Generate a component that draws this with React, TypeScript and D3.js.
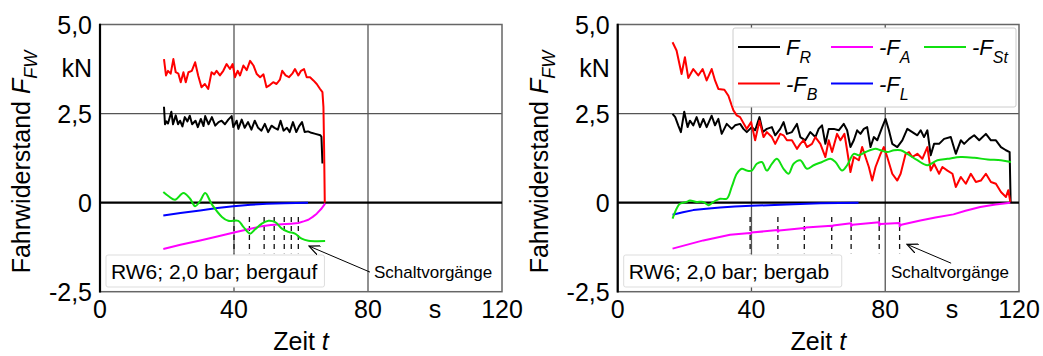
import React, { useEffect, useRef } from 'react'
import * as d3 from 'd3'

type Pt = [number, number]

// bergauf (left panel), t in s, force in kN
const upFR: Pt[] = [[19.1,2.69],[19.4,2.2],[19.8,2.28],[20.3,2.22],[21.3,2.55],[21.8,2.2],[22.6,2.45],[23.3,2.2],[23.9,2.3],[24.6,2.14],[25.3,2.4],[26.1,2.28],[26.8,2.44],[27.5,2.2],[28.5,2.3],[29.2,2.12],[30.1,2.35],[30.9,2.15],[31.4,2.43],[32.4,2.2],[33.4,2.4],[34.4,2.16],[35.4,2.26],[36.3,2.3],[37.3,2.2],[38.3,2.33],[39.3,2.43],[39.8,2.12],[40.8,2.3],[41.3,2.07],[42.3,2.33],[43.2,2.1],[44.2,2.26],[45.2,2.05],[46.2,2.3],[47.2,2.1],[48.2,2.02],[49.2,2.21],[50.2,1.98],[51.2,2.16],[52.1,2.1],[53.1,2.05],[53.9,2.3],[54.8,2.02],[55.8,2.1],[56.6,1.98],[57.6,2.26],[58.6,1.98],[59.4,2.14],[60.3,2.26],[61.1,1.98],[62.1,2.0],[63.1,1.96],[64.3,1.93],[65.8,1.89],[66.1,1.85],[66.4,1.1]]
const upFB: Pt[] = [[19.1,4.03],[19.7,3.57],[20.3,3.7],[21.1,3.62],[21.9,4.03],[22.6,3.66],[23.4,3.62],[24.1,3.38],[24.9,3.66],[25.6,3.38],[26.4,3.66],[27.4,3.7],[28.4,3.94],[29.3,3.57],[30.3,3.24],[31.3,3.33],[32.3,3.19],[33.3,3.66],[34.1,3.6],[34.8,3.7],[35.8,3.57],[36.8,3.7],[37.8,3.89],[38.8,3.75],[39.6,3.89],[40.3,3.52],[41.1,3.7],[41.8,3.57],[42.8,3.85],[43.8,3.72],[44.8,3.98],[45.8,3.85],[46.8,3.61],[47.8,3.52],[48.8,3.6],[49.7,3.24],[50.7,3.3],[51.7,3.38],[52.7,3.33],[53.7,3.45],[54.4,3.7],[55.4,3.57],[56.4,3.52],[57.4,3.62],[58.2,3.75],[59.2,3.57],[60.0,3.7],[60.9,3.75],[61.7,3.52],[62.7,3.52],[63.7,3.43],[64.7,3.33],[65.7,3.19],[66.4,3.1],[66.7,2.68],[66.9,1.5],[67.1,0]]
const upFA: Pt[] = [[18.9,-1.3],[24,-1.18],[29.9,-1.06],[35,-0.95],[40.3,-0.83],[44.6,-0.74],[48.3,-0.66],[51,-0.63],[54.3,-0.61],[57,-0.59],[59.2,-0.57],[61,-0.52],[62.2,-0.48],[63.5,-0.4],[64.7,-0.31],[66,-0.18],[67.2,-0.03]]
const upFL: Pt[] = [[18.9,-0.36],[24,-0.29],[29.9,-0.22],[35,-0.15],[39.8,-0.1],[45,-0.06],[49.8,-0.03],[55,-0.015],[62.1,0]]
const upFSt: Pt[] = [[18.9,0.3],[20.5,0.18],[22.4,0.08],[24.9,0.27],[26.9,0.11],[28.4,-0.1],[29.9,0.05],[31.4,0.27],[33.4,-0.05],[36.4,-0.4],[38.3,-0.51],[41.3,-0.51],[42.8,-0.68],[44.8,-0.87],[46.3,-0.75],[48.3,-0.59],[50.3,-0.51],[52.3,-0.55],[54.3,-0.73],[56.2,-0.82],[58.2,-0.87],[60.2,-1.01],[62.2,-1.07],[67.2,-1.08]]
const upShifts = [40, 44.6, 49, 52, 55, 57.1, 59.2]

// bergab (right panel)
const downFR: Pt[] = [[16.4,2.49],[17.2,2.4],[18.1,2.17],[18.9,1.98],[19.9,2.55],[20.9,2.12],[21.6,2.3],[22.6,2.17],[23.6,2.4],[24.6,2.12],[25.6,2.35],[26.6,2.12],[28.1,2.44],[29.1,2.17],[30.1,2.35],[31.1,1.93],[32.6,2.21],[34.1,2.07],[35.1,2.17],[36.6,2.21],[37.6,2.07],[38.6,1.98],[40.1,2.12],[41.1,2.03],[42.4,2.4],[43.4,1.98],[44.6,2.07],[46.1,2.12],[47.1,1.89],[48.6,2.07],[49.6,2.26],[50.6,1.93],[52.1,1.98],[53.6,2.21],[54.6,1.84],[56.1,1.75],[57.6,1.98],[59.1,1.84],[60.1,2.07],[61.1,2.17],[62.1,1.65],[63.1,2.07],[64.6,2.07],[66.1,2.03],[67.6,2.21],[68.6,2.03],[69.6,1.56],[70.6,1.75],[71.6,2.03],[72.6,1.93],[73.6,2.07],[74.6,2.12],[75.6,1.56],[76.6,1.84],[77.6,1.75],[79.1,2.12],[80.1,2.35],[81.1,2.03],[82.1,1.65],[83.6,1.56],[85.1,1.75],[86.6,2.07],[88.1,1.98],[89.6,1.89],[90.6,2.03],[91.6,1.84],[92.6,2.03],[93.6,1.33],[94.6,1.65],[96.1,1.65],[97.6,1.79],[99.6,1.84],[101.1,1.37],[102.6,1.75],[103.6,1.65],[105.1,1.79],[106.6,1.89],[108.1,1.75],[110.1,1.93],[111.6,1.75],[113.1,1.75],[114.6,1.56],[116.1,1.47],[117.2,1.42],[117.5,0]]
const downFB: Pt[] = [[16.4,4.5],[17.6,4.27],[19.1,3.61],[20.1,4.08],[21.1,3.5],[22.6,3.75],[24.1,3.57],[25.4,3.75],[26.6,3.43],[28.1,3.75],[29.1,3.43],[30.1,3.19],[31.9,3.17],[33.1,3.0],[34.6,2.59],[35.6,2.45],[36.6,2.4],[38.6,2.07],[39.9,2.26],[41.1,1.75],[42.4,2.3],[43.6,1.84],[44.6,1.98],[46.1,1.84],[47.1,1.65],[48.6,1.93],[49.6,1.89],[50.6,1.75],[52.1,1.75],[53.6,1.51],[54.6,1.65],[55.6,1.75],[56.6,1.56],[58.1,1.65],[59.1,1.84],[60.6,1.65],[62.1,1.28],[63.1,1.75],[64.1,1.42],[65.6,1.93],[66.6,1.75],[67.8,1.93],[68.6,1.47],[69.6,0.86],[70.6,1.28],[72.1,1.19],[73.1,1.56],[74.1,1.28],[75.1,1.0],[76.1,0.62],[77.1,1.0],[78.6,1.37],[79.6,1.56],[80.6,1.28],[82.1,0.81],[83.6,0.62],[84.6,0.81],[86.1,1.37],[87.1,1.42],[88.1,1.28],[89.6,1.37],[91.1,1.23],[92.6,1.56],[93.6,0.9],[94.6,1.09],[96.1,0.81],[97.1,1.0],[98.6,0.9],[100.1,0.81],[101.1,0.44],[102.6,0.72],[104.1,0.53],[105.6,0.81],[107.1,0.58],[108.6,0.62],[110.1,0.81],[111.6,0.58],[113.1,0.53],[114.6,0.3],[116.1,0.16],[116.8,0.35],[117.4,0.02]]
const downFA: Pt[] = [[16.4,-1.29],[25.6,-1.06],[33.6,-0.9],[39.6,-0.85],[39.7,-0.88],[40,-0.84],[47.9,-0.77],[47.9,-0.82],[48.3,-0.78],[55.8,-0.71],[55.9,-0.74],[56.2,-0.7],[64,-0.65],[64.1,-0.68],[64.4,-0.64],[69.8,-0.58],[69.8,-0.66],[70.2,-0.62],[78.2,-0.55],[78.2,-0.64],[78.6,-0.6],[84.3,-0.57],[84.3,-0.66],[84.8,-0.62],[90.5,-0.5],[95,-0.42],[100.4,-0.33],[104,-0.23],[108.4,-0.12],[113,-0.05],[117.4,0]]
const downFL: Pt[] = [[16.4,-0.34],[19.5,-0.27],[22.6,-0.21],[26.5,-0.17],[30.6,-0.14],[35,-0.11],[39.9,-0.09],[45,-0.07],[50.6,-0.05],[60.6,-0.02],[72,0]]
const downFSt: Pt[] = [[16.4,-0.45],[17.6,-0.17],[18.6,-0.03],[20.6,0.02],[21.6,0.06],[23.6,0.02],[25.6,0.02],[27.1,-0.07],[28.6,0.02],[30.6,0.11],[32.6,0.11],[34.1,0.44],[35.6,0.81],[37.1,0.95],[38.6,0.9],[40.1,0.9],[41.6,1.09],[43.1,1.14],[44.6,0.9],[46.1,1.09],[47.6,1.23],[49.6,0.95],[51.1,0.81],[52.6,1.09],[54.6,1.19],[56.6,0.95],[58.6,1.05],[61.1,1.14],[63.6,1.23],[65.1,1.14],[67.1,0.9],[68.6,1.05],[70.6,1.37],[72.1,1.33],[74.1,1.42],[77.1,1.51],[78.6,1.47],[80.6,1.42],[82.6,1.47],[84.6,1.47],[86.6,1.37],[89.6,1.19],[92.6,1.05],[95.6,1.19],[98.6,1.23],[102.6,1.28],[106.6,1.26],[110.6,1.21],[114.6,1.19],[117.6,1.14]]
const downShifts = [39.6, 47.9, 55.8, 64, 69.8, 78.2, 84.3]

const xTicks = [0, 40, 80, 120]
const xTickLabels = ['0', '40', '80', '120']
const yTicks = [-2.5, 0, 2.5, 5]
const yTickLabels = ['-2,5', '0', '2,5', '5,0']
const gridX = [40, 80]
const gridY = [2.5]

const seriesColors = ['#000000', '#ff0000', '#ff00ff', '#0000ff', '#10e010']
const legendMain = ['F', '-F', '-F', '-F', '-F']
const legendSub = ['R', 'B', 'A', 'L', 'St']

const FONT = 'Liberation Sans, Arial, Helvetica, sans-serif'

type PanelConfig = {
    left: number
    right: number
    series: Pt[][]
    shifts: number[]
    label: string
    legend: boolean
    titleX: number
    arrowTip: Pt
    arrowTail: Pt
    noteAt: Pt
}

const panels: PanelConfig[] = [
    {
        left: 100, right: 502,
        series: [upFR, upFB, upFA, upFL, upFSt],
        shifts: upShifts, label: 'RW6; 2,0 bar; bergauf', legend: false, titleX: 30,
        arrowTip: [62.4, -1.22], arrowTail: [80.6, -1.95], noteAt: [81.8, -2.12],
    },
    {
        left: 617.7, right: 1019,
        series: [downFR, downFB, downFA, downFL, downFSt],
        shifts: downShifts, label: 'RW6; 2,0 bar; bergab', legend: true, titleX: 548,
        arrowTip: [86.5, -1.17], arrowTail: [99.7, -1.7], noteAt: [81.7, -2.12],
    },
]

const TOP = 24.5
const BOTTOM = 291.7

const drawPanel = (svg: d3.Selection<SVGSVGElement, unknown, null, undefined>, p: PanelConfig) => {
    const x = d3.scaleLinear().domain([0, 120]).range([p.left, p.right])
    const y = d3.scaleLinear().domain([-2.5, 5]).range([BOTTOM, TOP])
    const g = svg.append('g')

    // grid
    gridX.forEach(t => {
        g.append('line').attr('x1', x(t)).attr('x2', x(t)).attr('y1', TOP).attr('y2', BOTTOM)
            .attr('stroke', '#555').attr('stroke-width', 1.3)
    })
    gridY.forEach(v => {
        g.append('line').attr('x1', p.left).attr('x2', p.right).attr('y1', y(v)).attr('y2', y(v))
            .attr('stroke', '#555').attr('stroke-width', 1.3)
    })

    // frame
    g.append('rect').attr('x', p.left).attr('y', TOP).attr('width', p.right - p.left).attr('height', BOTTOM - TOP)
        .attr('fill', 'none').attr('stroke', '#666').attr('stroke-width', 1.5)
    g.append('line').attr('x1', p.left).attr('x2', p.left).attr('y1', TOP - 0.8).attr('y2', BOTTOM + 0.8)
        .attr('stroke', '#000').attr('stroke-width', 2.2)
    g.append('line').attr('x1', p.left).attr('x2', p.right).attr('y1', y(0)).attr('y2', y(0))
        .attr('stroke', '#000').attr('stroke-width', 2.2)

    // shift markers
    p.shifts.forEach(t => {
        g.append('line').attr('x1', x(t)).attr('x2', x(t)).attr('y1', y(-0.4)).attr('y2', y(-1.42))
            .attr('stroke', '#111').attr('stroke-width', 1.3).attr('stroke-dasharray', '5,4')
    })

    // data lines
    p.series.forEach((data, i) => {
        const line = d3.line<Pt>().x(d => x(d[0])).y(d => y(d[1]))
            .curve(i === 4 ? d3.curveCatmullRom.alpha(0.5) : d3.curveLinear)
        g.append('path').datum(data).attr('d', line).attr('fill', 'none')
            .attr('stroke', seriesColors[i]).attr('stroke-width', 2).attr('stroke-linejoin', 'round')
    })

    // tick labels
    yTicks.forEach((v, i) => {
        g.append('text').attr('x', p.left - 8).attr('y', y(v)).attr('dy', '0.36em')
            .attr('text-anchor', 'end').attr('font-size', 25).attr('font-family', FONT).text(yTickLabels[i])
    })
    g.append('text').attr('x', p.left - 8).attr('y', 77).attr('text-anchor', 'end')
        .attr('font-size', 25).attr('font-family', FONT).text('kN')
    xTicks.forEach((t, i) => {
        g.append('text').attr('x', x(t)).attr('y', 318).attr('text-anchor', 'middle')
            .attr('font-size', 25).attr('font-family', FONT).text(xTickLabels[i])
    })
    g.append('text').attr('x', x(100)).attr('y', 318).attr('text-anchor', 'middle')
        .attr('font-size', 25).attr('font-family', FONT).text('s')

    // axis titles
    const xt = g.append('text').attr('x', x(60)).attr('y', 350).attr('text-anchor', 'middle')
        .attr('font-size', 25).attr('font-family', FONT)
    xt.append('tspan').text('Zeit ')
    xt.append('tspan').attr('font-style', 'italic').text('t')

    const yt = g.append('text').attr('transform', `translate(${p.titleX},${(TOP + BOTTOM) / 2 + 4}) rotate(-90)`)
        .attr('text-anchor', 'middle').attr('font-size', 25).attr('font-family', FONT)
    yt.append('tspan').text('Fahrwiderstand ')
    yt.append('tspan').attr('font-style', 'italic').text('F')
    yt.append('tspan').attr('font-style', 'italic').attr('font-size', 18).attr('dy', 7).text('FW')

    // label box
    const bx = g.append('g')
    bx.append('rect').attr('x', p.left + 6).attr('y', 255).attr('width', x(67) - p.left - 6).attr('height', 32)
        .attr('rx', 2).attr('fill', '#fff').attr('stroke', '#ddd').attr('stroke-width', 1)
    bx.append('text').attr('x', p.left + 11).attr('y', 279).attr('font-size', 21).attr('font-family', FONT).text(p.label)

    // Schaltvorgänge annotation
    g.append('line').attr('x1', x(p.arrowTail[0])).attr('y1', y(p.arrowTail[1]))
        .attr('x2', x(p.arrowTip[0])).attr('y2', y(p.arrowTip[1]))
        .attr('stroke', '#000').attr('stroke-width', 1).attr('marker-end', 'url(#arrow)')
    g.append('text').attr('x', x(p.noteAt[0])).attr('y', y(p.noteAt[1])).attr('font-size', 17)
        .attr('font-family', FONT).text('Schaltvorgänge')

    // legend
    if (p.legend) {
        const lg = g.append('g')
        lg.append('rect').attr('x', 733).attr('y', 28).attr('width', 283).attr('height', 79)
            .attr('rx', 2).attr('fill', '#fff').attr('stroke', '#ccc').attr('stroke-width', 1)
        legendMain.forEach((m, i) => {
            const col = Math.floor(i / 2)
            const row = i % 2
            const lx = 738 + col * 93
            const ly = 47 + row * 36.5
            lg.append('line').attr('x1', lx).attr('x2', lx + 42).attr('y1', ly).attr('y2', ly)
                .attr('stroke', seriesColors[i]).attr('stroke-width', 2)
            const t = lg.append('text').attr('x', lx + 48).attr('y', ly + 8).attr('font-size', 22)
                .attr('font-family', FONT).attr('font-style', 'italic')
            t.append('tspan').text(m)
            t.append('tspan').attr('font-size', 16).attr('dy', 8).text(legendSub[i])
        })
    }
}

const create = (el: SVGSVGElement) => {
    const svg = d3.select(el)
    svg.selectAll('*').remove()
    svg.append('defs').append('marker').attr('id', 'arrow').attr('viewBox', '0 0 12 10')
        .attr('refX', 11).attr('refY', 5).attr('markerWidth', 12).attr('markerHeight', 10)
        .attr('markerUnits', 'userSpaceOnUse').attr('orient', 'auto')
        .append('path').attr('d', 'M0,0 L11,5 L0,10').attr('fill', 'none').attr('stroke', '#000').attr('stroke-width', 1.2)
    panels.forEach(p => drawPanel(svg, p))
}

export default function App() {
    const ref = useRef<SVGSVGElement>(null)
    useEffect(() => {
        if (ref.current) create(ref.current)
    }, [])
    return (
        <svg ref={ref} width={1043} height={356}
            style={{ position: 'absolute', left: 0, top: 0, background: '#fff' }} />
    )
}
